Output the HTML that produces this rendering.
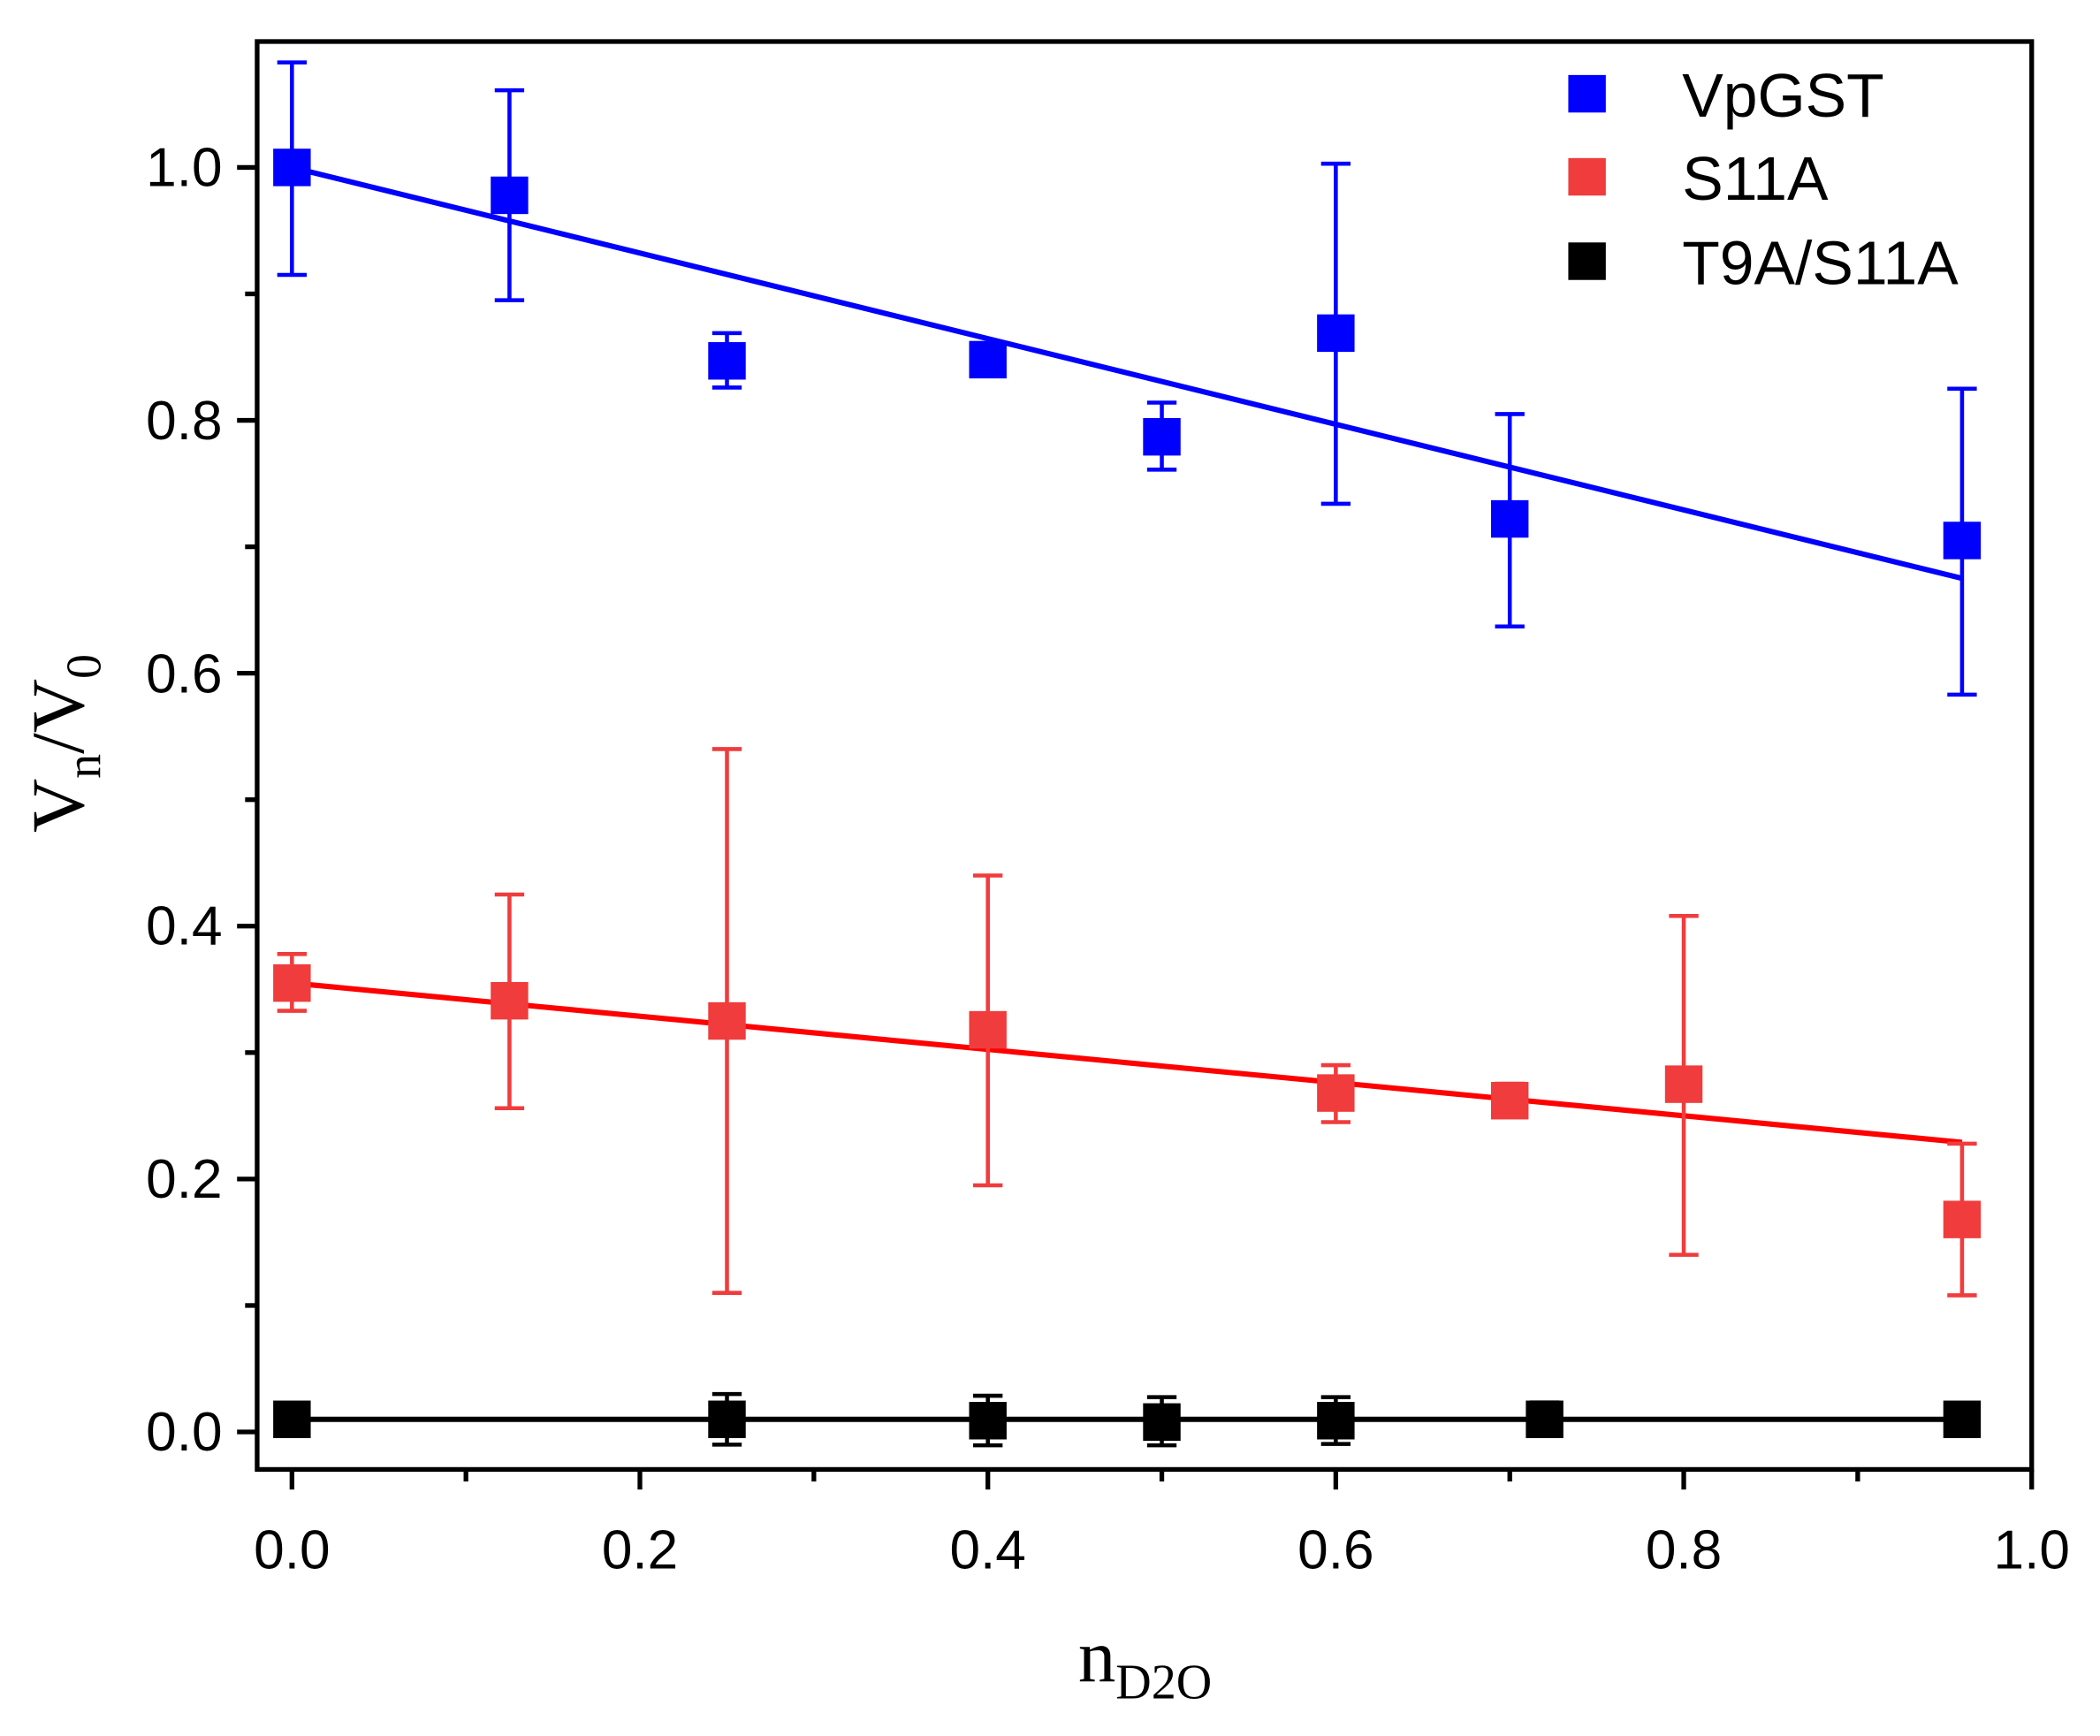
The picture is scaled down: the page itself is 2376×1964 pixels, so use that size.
<!DOCTYPE html>
<html><head><meta charset="utf-8"><style>html,body{margin:0;padding:0;background:#fff}svg{display:block}</style></head>
<body>
<svg width="2376" height="1964" viewBox="0 0 1568 1296" preserveAspectRatio="none" xmlns="http://www.w3.org/2000/svg">
<rect width="1568" height="1296" fill="#fff"/>
<rect x="192" y="31" width="1325" height="1066" fill="none" stroke="#000" stroke-width="3.5"/>
<g stroke="#000" stroke-width="3.5">
<line x1="218" y1="1097" x2="218" y2="1112"/><line x1="477.8" y1="1097" x2="477.8" y2="1112"/><line x1="737.6" y1="1097" x2="737.6" y2="1112"/><line x1="997.4" y1="1097" x2="997.4" y2="1112"/><line x1="1257.2" y1="1097" x2="1257.2" y2="1112"/><line x1="1517" y1="1097" x2="1517" y2="1112"/>
<line x1="347.9" y1="1097" x2="347.9" y2="1106"/><line x1="607.7" y1="1097" x2="607.7" y2="1106"/><line x1="867.5" y1="1097" x2="867.5" y2="1106"/><line x1="1127.3" y1="1097" x2="1127.3" y2="1106"/><line x1="1387.1" y1="1097" x2="1387.1" y2="1106"/>
<line x1="177" y1="1069" x2="192" y2="1069"/><line x1="177" y1="880.2" x2="192" y2="880.2"/><line x1="177" y1="691.4" x2="192" y2="691.4"/><line x1="177" y1="502.6" x2="192" y2="502.6"/><line x1="177" y1="313.8" x2="192" y2="313.8"/><line x1="177" y1="125" x2="192" y2="125"/>
<line x1="183" y1="974.6" x2="192" y2="974.6"/><line x1="183" y1="785.8" x2="192" y2="785.8"/><line x1="183" y1="597" x2="192" y2="597"/><line x1="183" y1="408.2" x2="192" y2="408.2"/><line x1="183" y1="219.4" x2="192" y2="219.4"/>
</g>
<g font-family="Liberation Sans, sans-serif" font-size="41" fill="#000">
<g text-anchor="middle">
<text x="218" y="1171">0.0</text><text x="477.8" y="1171">0.2</text><text x="737.6" y="1171">0.4</text><text x="997.4" y="1171">0.6</text><text x="1257.2" y="1171">0.8</text><text x="1517" y="1171">1.0</text>
</g>
<g text-anchor="end">
<text x="166" y="1083">0.0</text><text x="166" y="894">0.2</text><text x="166" y="705">0.4</text><text x="166" y="517">0.6</text><text x="166" y="328">0.8</text><text x="166" y="139">1.0</text>
</g>
</g>
<text x="855" y="1255" font-family="Liberation Serif, serif" font-size="56" text-anchor="middle">n<tspan font-size="37" dy="13">D2O</tspan></text>
<text transform="translate(62,555) rotate(-90)" font-family="Liberation Serif, serif" font-size="56" text-anchor="middle">V<tspan font-size="37" dy="13">n</tspan><tspan dy="-13">/V</tspan><tspan font-size="37" dy="13">0</tspan></text>
<line x1="218" y1="125" x2="1465" y2="431.8" stroke="#0000ff" stroke-width="4"/>
<line x1="218" y1="733.9" x2="1465" y2="852.8" stroke="#ff0000" stroke-width="4"/>
<line x1="218" y1="1059.6" x2="1465" y2="1059.6" stroke="#000" stroke-width="4"/>
<g stroke="#0000ff" stroke-width="3" fill="none">
<path d="M218 46.6V205.2M207 46.6h22M207 205.2h22"/>
<path d="M380.4 67.4V224.1M369.4 67.4h22M369.4 224.1h22"/>
<path d="M542.8 248.7V289.3M531.8 248.7h22M531.8 289.3h22"/>
<path d="M737.6 257.2V279.8M726.6 257.2h22M726.6 279.8h22"/>
<path d="M867.5 300.6V350.6M856.5 300.6h22M856.5 350.6h22"/>
<path d="M997.4 122.2V376.1M986.4 122.2h22M986.4 376.1h22"/>
<path d="M1127.3 309.1V467.7M1116.3 309.1h22M1116.3 467.7h22"/>
<path d="M1465 290.2V518.6M1454 290.2h22M1454 518.6h22"/>
</g>
<g fill="#0000ff">
<rect x="204" y="111" width="28" height="28"/><rect x="366.4" y="131.8" width="28" height="28"/><rect x="528.8" y="255.4" width="28" height="28"/><rect x="723.6" y="254.5" width="28" height="28"/><rect x="853.5" y="312.1" width="28" height="28"/><rect x="983.4" y="234.7" width="28" height="28"/><rect x="1113.3" y="373.4" width="28" height="28"/><rect x="1451" y="389.5" width="28" height="28"/>
</g>
<g stroke="#f03c3c" stroke-width="3" fill="none">
<path d="M218 712.2V754.6M207 712.2h22M207 754.6h22"/>
<path d="M380.4 667.8V827.3M369.4 667.8h22M369.4 827.3h22"/>
<path d="M542.8 559.2V965.2M531.8 559.2h22M531.8 965.2h22"/>
<path d="M737.6 653.6V884.9M726.6 653.6h22M726.6 884.9h22"/>
<path d="M997.4 795.2V837.7M986.4 795.2h22M986.4 837.7h22"/>
<path d="M1127.3 809V833M1116.3 809h22M1116.3 833h22"/>
<path d="M1257.2 683.8V936.8M1246.2 683.8h22M1246.2 936.8h22"/>
<path d="M1465 853.8V967M1454 853.8h22M1454 967h22"/>
</g>
<g fill="#f03c3c">
<rect x="204" y="719.9" width="28" height="28"/><rect x="366.4" y="733.1" width="28" height="28"/><rect x="528.8" y="748.2" width="28" height="28"/><rect x="723.6" y="754.8" width="28" height="28"/><rect x="983.4" y="802" width="28" height="28"/><rect x="1113.3" y="807.7" width="28" height="28"/><rect x="1243.2" y="795.4" width="28" height="28"/><rect x="1451" y="896.4" width="28" height="28"/>
</g>
<g stroke="#000" stroke-width="3" fill="none">
<path d="M542.8 1040.7V1078.5M531.8 1040.7h22M531.8 1078.5h22"/>
<path d="M737.6 1042V1079M726.6 1042h22M726.6 1079h22"/>
<path d="M867.5 1043V1079M856.5 1043h22M856.5 1079h22"/>
<path d="M997.4 1043V1078M986.4 1043h22M986.4 1078h22"/>
<path d="M218 1048V1071M207 1048h22M207 1071h22"/>
<path d="M1153.3 1047V1072M1142.3 1047h22M1142.3 1072h22"/>
<path d="M1465 1048V1071M1454 1048h22M1454 1071h22"/>
</g>
<g fill="#000">
<rect x="204" y="1045.6" width="28" height="28"/><rect x="528.8" y="1045.6" width="28" height="28"/><rect x="723.6" y="1046.6" width="28" height="28"/><rect x="853.5" y="1047.6" width="28" height="28"/><rect x="983.4" y="1046.6" width="28" height="28"/><rect x="1139.3" y="1045.6" width="28" height="28"/><rect x="1451" y="1045.6" width="28" height="28"/>
</g>
<rect x="1171" y="56" width="28" height="28" fill="#0000ff"/>
<rect x="1171" y="118" width="28" height="28" fill="#f03c3c"/>
<rect x="1171" y="181" width="28" height="28" fill="#000"/>
<g font-family="Liberation Sans, sans-serif" font-size="46" fill="#000">
<text x="1256" y="87">VpGST</text><text x="1256" y="149">S11A</text><text x="1256" y="212">T9A/S11A</text>
</g>
</svg>
</body></html>
